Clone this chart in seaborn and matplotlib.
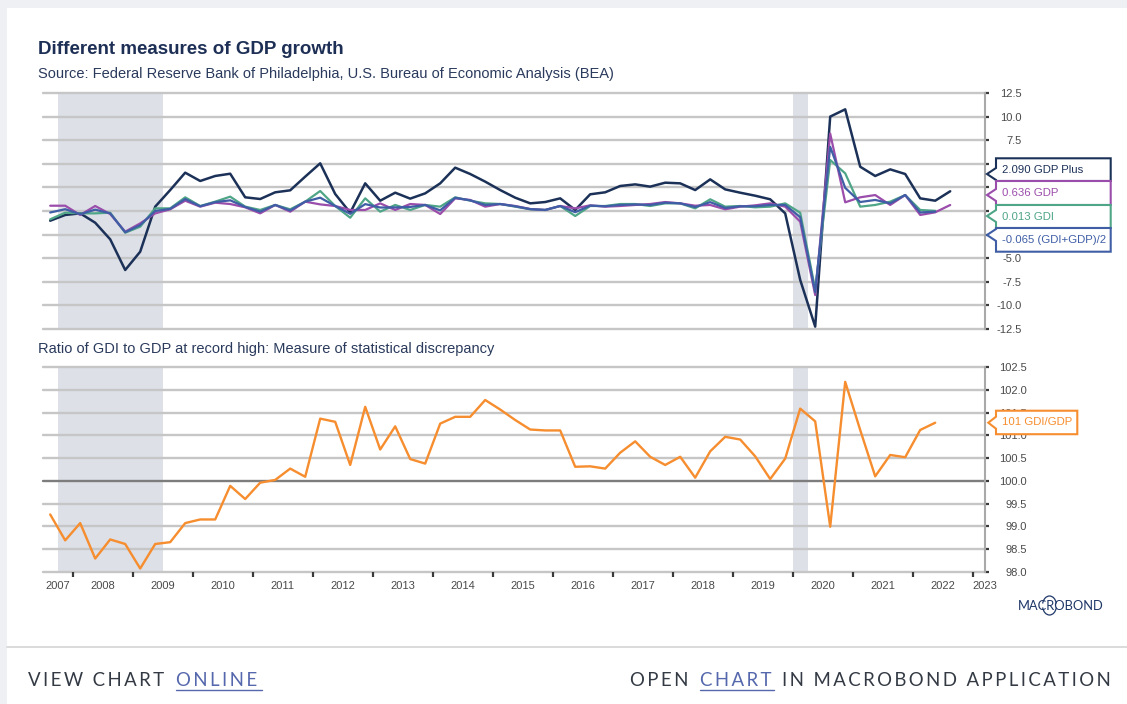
import numpy as np
import pandas as pd
import matplotlib
matplotlib.use("Agg")
import matplotlib.pyplot as plt
import seaborn as sns
from matplotlib.patches import Polygon, Rectangle, Arc
from matplotlib.lines import Line2D

# ---------------- data ----------------
quarters = pd.period_range("2007Q3", "2022Q3", freq="Q")

gdp_plus = [-1.03, -0.42, -0.25, -1.24, -3.0, -6.25, -4.31, 0.46, 2.22, 4.06,
            3.18, 3.71, 3.95, 1.45, 1.27, 1.98, 2.19, 3.64, 5.05, 1.80,
            -0.18, 2.93, 1.09, 1.94, 1.31, 1.87, 2.93, 4.59, 3.92, 3.11,
            2.22, 1.41, 0.81, 0.95, 1.34, 0.11, 1.77, 1.98, 2.65, 2.82,
            2.58, 3.0, 2.93, 2.22, 3.35, 2.29, 1.94, 1.62, 1.24, -0.25,
            -7.3, -12.25, 10.0, 10.77, 4.69, 3.71, 4.41, 3.92, 1.34, 1.09, 2.090]

gdp = [0.56, 0.56, -0.42, 0.53, -0.32, -2.19, -1.31, -0.25, 0.18, 1.09,
       0.46, 0.88, 0.74, 0.39, -0.25, 0.64, -0.07, 0.99, 0.70, 0.53,
       0.11, 0.11, 0.81, 0.11, 0.74, 0.64, -0.32, 1.34, 1.17, 0.46,
       0.74, 0.53, 0.21, 0.11, 0.53, 0.28, 0.60, 0.46, 0.53, 0.64,
       0.74, 0.95, 0.81, 0.56, 0.64, 0.18, 0.46, 0.60, 0.81, 0.46,
       -1.13, -8.9, 8.2, 0.92, 1.45, 1.69, 0.64, 1.69, -0.42, -0.14, 0.636]

gdi = [-0.88, -0.18, -0.25, -0.25, -0.18, -2.3, -1.66, 0.28, 0.28, 1.45,
       0.53, 0.99, 1.52, 0.46, 0.11, 0.64, 0.18, 0.99, 2.12, 0.53,
       -0.71, 1.34, -0.07, 0.64, 0.11, 0.64, 0.46, 1.45, 1.09, 0.81,
       0.74, 0.46, 0.18, 0.11, 0.53, -0.53, 0.53, 0.53, 0.74, 0.74,
       0.53, 0.81, 0.81, 0.28, 1.24, 0.46, 0.53, 0.39, 0.46, 0.81,
       -0.18, -8.3, 5.4, 3.99, 0.46, 0.64, 0.99, 1.69, 0.11, 0.013]

gdi_gdp_avg = [-0.16, 0.19, -0.34, 0.14, -0.25, -2.25, -1.49, 0.0, 0.23, 1.27,
               0.50, 0.94, 1.13, 0.43, -0.07, 0.64, 0.06, 0.99, 1.41, 0.53,
               -0.30, 0.73, 0.37, 0.38, 0.43, 0.64, 0.07, 1.40, 1.13, 0.64,
               0.74, 0.50, 0.20, 0.11, 0.53, -0.13, 0.57, 0.50, 0.64, 0.69,
               0.64, 0.88, 0.81, 0.42, 0.94, 0.32, 0.50, 0.50, 0.64, 0.64,
               -0.66, -8.6, 6.8, 2.45, 0.95, 1.17, 0.81, 1.69, -0.16, -0.065]

gdi_gdp_ratio = [99.26, 98.69, 99.07, 98.29, 98.71, 98.61, 98.07, 98.61, 98.65, 99.07,
                 99.15, 99.15, 99.89, 99.60, 99.96, 100.02, 100.27, 100.09, 101.37, 101.30,
                 100.35, 101.63, 100.69, 101.20, 100.48, 100.38, 101.26, 101.41, 101.41, 101.78,
                 101.57, 101.34, 101.13, 101.11, 101.11, 100.31, 100.32, 100.27, 100.62, 100.87,
                 100.53, 100.35, 100.53, 100.07, 100.65, 100.97, 100.91, 100.54, 100.04, 100.49,
                 101.59, 101.31, 98.99, 102.18, 101.12, 100.10, 100.57, 100.52, 101.12, 101.28]

recessions = [("2007Q4", "2009Q2"), ("2020Q1", "2020Q1")]
year_labels = list(range(2007, 2024))
top_ticks = [12.5, 10.0, 7.5, 5.0, 2.5, 0.0, -2.5, -5.0, -7.5, -10.0, -12.5]
top_hidden = [5.0, 2.5, 0.0, -2.5]          # covered by the value labels
bottom_ticks = [98.0, 98.5, 99.0, 99.5, 100.0, 100.5, 101.0, 101.5, 102.0, 102.5]

series_names = ["GDP Plus", "GDI", "GDP", "(GDI+GDP)/2"]
series_vals = {"GDP Plus": gdp_plus, "GDI": gdi, "GDP": gdp, "(GDI+GDP)/2": gdi_gdp_avg}
colors = {"GDP Plus": "#1c3158", "GDP": "#9b4dab", "GDI": "#4fa587",
          "(GDI+GDP)/2": "#3f5ea6"}
orange = "#f68d2e"

def qpos(p):
    return p.year + (p.quarter - 1) / 4 + 0.125

xq = [qpos(p) for p in quarters]

rows = []
for name in series_names:
    for xv, v in zip(xq, series_vals[name]):
        rows.append({"x": xv, "value": v, "series": name})
df_top = pd.DataFrame(rows)
df_bot = pd.DataFrame({"x": xq[:len(gdi_gdp_ratio)], "value": gdi_gdp_ratio})

# ---------------- style ----------------
sns.set_style("white")
plt.rcParams["font.family"] = ["Liberation Sans", "DejaVu Sans"]

W, H = 1127, 704
fig = plt.figure(figsize=(W / 100, H / 100), dpi=100)
fig.patch.set_facecolor("#eef0f3")

def fx(px):
    return px / W

def fy(py):
    return 1 - py / H

# white card
fig.add_artist(Rectangle((fx(7), 0), 1 - fx(7), fy(8), transform=fig.transFigure,
                         facecolor="white", edgecolor="none", zorder=0))

xmin, xmax = 2007.505, 2023.205
L, R = 43, 985
ax1 = fig.add_axes([fx(L), fy(329), (R - L) / W, (329 - 93) / H])
ax2 = fig.add_axes([fx(L), fy(571.7), (R - L) / W, (571.7 - 367.3) / H])

grid_c = "#c6c6c6"
tick_c = "#3a3a3a"
label_c = "#4a4a4a"

def rec_span(a, b):
    pa, pb = pd.Period(a, "Q"), pd.Period(b, "Q")
    return pa.year + (pa.quarter - 1) / 4, pb.year + pb.quarter / 4

for ax, ticks, lims in [(ax1, top_ticks, (-12.5, 12.5)), (ax2, bottom_ticks, (98.0, 102.5))]:
    ax.set_facecolor("none")
    ax.set_xlim(xmin, xmax)
    ax.set_ylim(*lims)
    for s in ["top", "left", "bottom"]:
        ax.spines[s].set_visible(False)
    ax.spines["right"].set_color("#a9a9a9")
    ax.spines["right"].set_linewidth(1.5)
    for t in ticks:
        c = "#7d7d7d" if (ax is ax2 and t == 100.0) else grid_c
        ax.axhline(t, color=c, lw=1.7, zorder=0.5, clip_on=False)
    for a, b in recessions:
        s0, s1 = rec_span(a, b)
        ax.axvspan(s0, s1, color="#dde0e7", lw=0, zorder=0.2)
    ax.yaxis.tick_right()
    ax.set_yticks(ticks)
    ax.tick_params(axis="y", which="major", length=3.2, width=1.6, color=tick_c,
                   labelsize=8, labelcolor=label_c, direction="out")

ax1.set_yticklabels(["" if t in top_hidden else f"{t:.1f}" for t in top_ticks])
ax2.set_yticklabels([f"{t:.1f}" for t in bottom_ticks])
ax1.tick_params(axis="y", pad=23.0)
ax2.tick_params(axis="y", pad=27.0)
for lab in ax1.get_yticklabels() + ax2.get_yticklabels():
    lab.set_horizontalalignment("right")

# lines
sns.lineplot(data=df_top, x="x", y="value", hue="series", hue_order=series_names,
             palette=colors, ax=ax1, legend=False, sort=False, estimator=None,
             linewidth=1.6, zorder=3)
for ln in ax1.get_lines():
    if ln.get_color() == colors["GDP Plus"]:
        ln.set_linewidth(1.8)
sns.lineplot(data=df_bot, x="x", y="value", color=orange, ax=ax2, legend=False,
             sort=False, estimator=None, linewidth=1.7, zorder=3)
ax1.set_xlabel(""); ax1.set_ylabel("")
ax2.set_xlabel(""); ax2.set_ylabel("")

# x axis
ax1.set_xticks([])
major = [y for y in year_labels if xmin <= y <= xmax]
ax2.set_xticks(major)
ax2.set_xticklabels([""] * len(major))
ax2.tick_params(axis="x", which="major", length=3.6, width=1.6, color=tick_c,
                direction="out", bottom=True)
minor_pos, minor_lab = [], []
for y in year_labels:
    lo, hi = max(y, xmin), min(y + 1, xmax)
    if hi > lo:
        pos = (lo + hi) / 2 if (hi - lo) > 0.3 else xmax
        minor_pos.append(pos)
        minor_lab.append(str(y))
ax2.set_xticks(minor_pos, minor=True)
ax2.set_xticklabels(minor_lab, minor=True)
ax2.tick_params(axis="x", which="minor", length=0, pad=7, labelsize=8,
                labelcolor=label_c)

# titles
fig.text(fx(38), fy(50), "Different measures of GDP growth", fontsize=13.5,
         fontweight="bold", color="#1d2f55", va="center", ha="left")
fig.text(fx(38), fy(74), "Source: Federal Reserve Bank of Philadelphia, U.S. Bureau of Economic Analysis (BEA)",
         fontsize=10.5, color="#2a3a5c", va="center", ha="left")
fig.text(fx(38), fy(349), "Ratio of GDI to GDP at record high: Measure of statistical discrepancy",
         fontsize=10.5, color="#2a3a5c", va="center", ha="left")

# callout labels
def callout(xl, xr, yt, yb, tipx, tipy, color, text):
    notch_lo = min(tipy + 6, yb)
    notch_hi = max(tipy - 6, yt)
    pts = [(xl, yt), (xr, yt), (xr, yb), (xl, yb), (xl, notch_lo), (tipx, tipy), (xl, notch_hi)]
    poly = Polygon([(fx(a), fy(b)) for a, b in pts], closed=True, transform=fig.transFigure,
                   facecolor="white", edgecolor=color, lw=1.5, zorder=10)
    fig.add_artist(poly)
    fig.text(fx(xl + 6), fy((yt + yb) / 2), text, color=color, fontsize=8.2,
             va="center", ha="left", zorder=11)

top_last = [(gdp_plus[-1], "GDP Plus"), (gdp[-1], "GDP"), (gdi[-1], "GDI"),
            (gdi_gdp_avg[-1], "(GDI+GDP)/2")]
boxes = [(158.3, 181.0, 174), (181.0, 205.0, 195), (205.0, 228.0, 216), (228.0, 251.7, 235)]
for (val, name), (yt, yb, ty) in zip(top_last, boxes):
    callout(996, 1110.7, yt, yb, 987, ty, colors[name], f"{val:.3f} {name}")

ratio_last = gdi_gdp_ratio[-1]
tip_y = ax2.transData.transform((xmax, ratio_last))[1]
tip_py = H - tip_y
callout(996, 1077.3, tip_py - 12, tip_py + 11.5, 988.3, tip_py, orange,
        f"{ratio_last:.0f} GDI/GDP")

# Macrobond logo
logo_c = "#1f3768"
fig.text(fx(1061), fy(606), "MACROBOND", fontsize=9.3, color=logo_c,
         family=["Lato", "DejaVu Sans"], ha="center", va="center")
fig.add_artist(Arc((fx(1049.5), fy(605.5)), 14 / W, 19 / H, theta1=25, theta2=155,
                   transform=fig.transFigure, color=logo_c, lw=0.9))
fig.add_artist(Arc((fx(1049.5), fy(605.5)), 14 / W, 19 / H, theta1=205, theta2=335,
                   transform=fig.transFigure, color=logo_c, lw=0.9))

# footer
fig.add_artist(Line2D([fx(7), 1], [fy(647), fy(647)], transform=fig.transFigure,
                      color="#d4d4d4", lw=1.2))

def spaced(s):
    return "\u2009".join(list(s))

ff = ["Lato", "DejaVu Sans"]
fcol = "#333a44"
lcol = "#5668ad"
fs = 13.4
fig.text(fx(28), fy(680), spaced("VIEW") + "  " + spaced("CHART"), fontsize=fs,
         color=fcol, family=ff, va="center", ha="left")
fig.text(fx(176), fy(680), spaced("ONLINE"), fontsize=fs, color=lcol, family=ff,
         va="center", ha="left")
fig.add_artist(Line2D([fx(176), fx(262)], [fy(689.5), fy(689.5)], transform=fig.transFigure,
                      color=lcol, lw=1.0))
fig.text(fx(630), fy(680), spaced("OPEN"), fontsize=fs, color=fcol, family=ff,
         va="center", ha="left")
fig.text(fx(700), fy(680), spaced("CHART"), fontsize=fs, color=lcol, family=ff,
         va="center", ha="left")
fig.add_artist(Line2D([fx(700), fx(774)], [fy(689.5), fy(689.5)], transform=fig.transFigure,
                      color=lcol, lw=1.0))
fig.text(fx(782), fy(680), spaced("IN") + "  " + spaced("MACROBOND") + "  " + spaced("APPLICATION"),
         fontsize=fs, color=fcol, family=ff, va="center", ha="left")

fig.savefig("out.png", dpi=100, facecolor=fig.get_facecolor())
